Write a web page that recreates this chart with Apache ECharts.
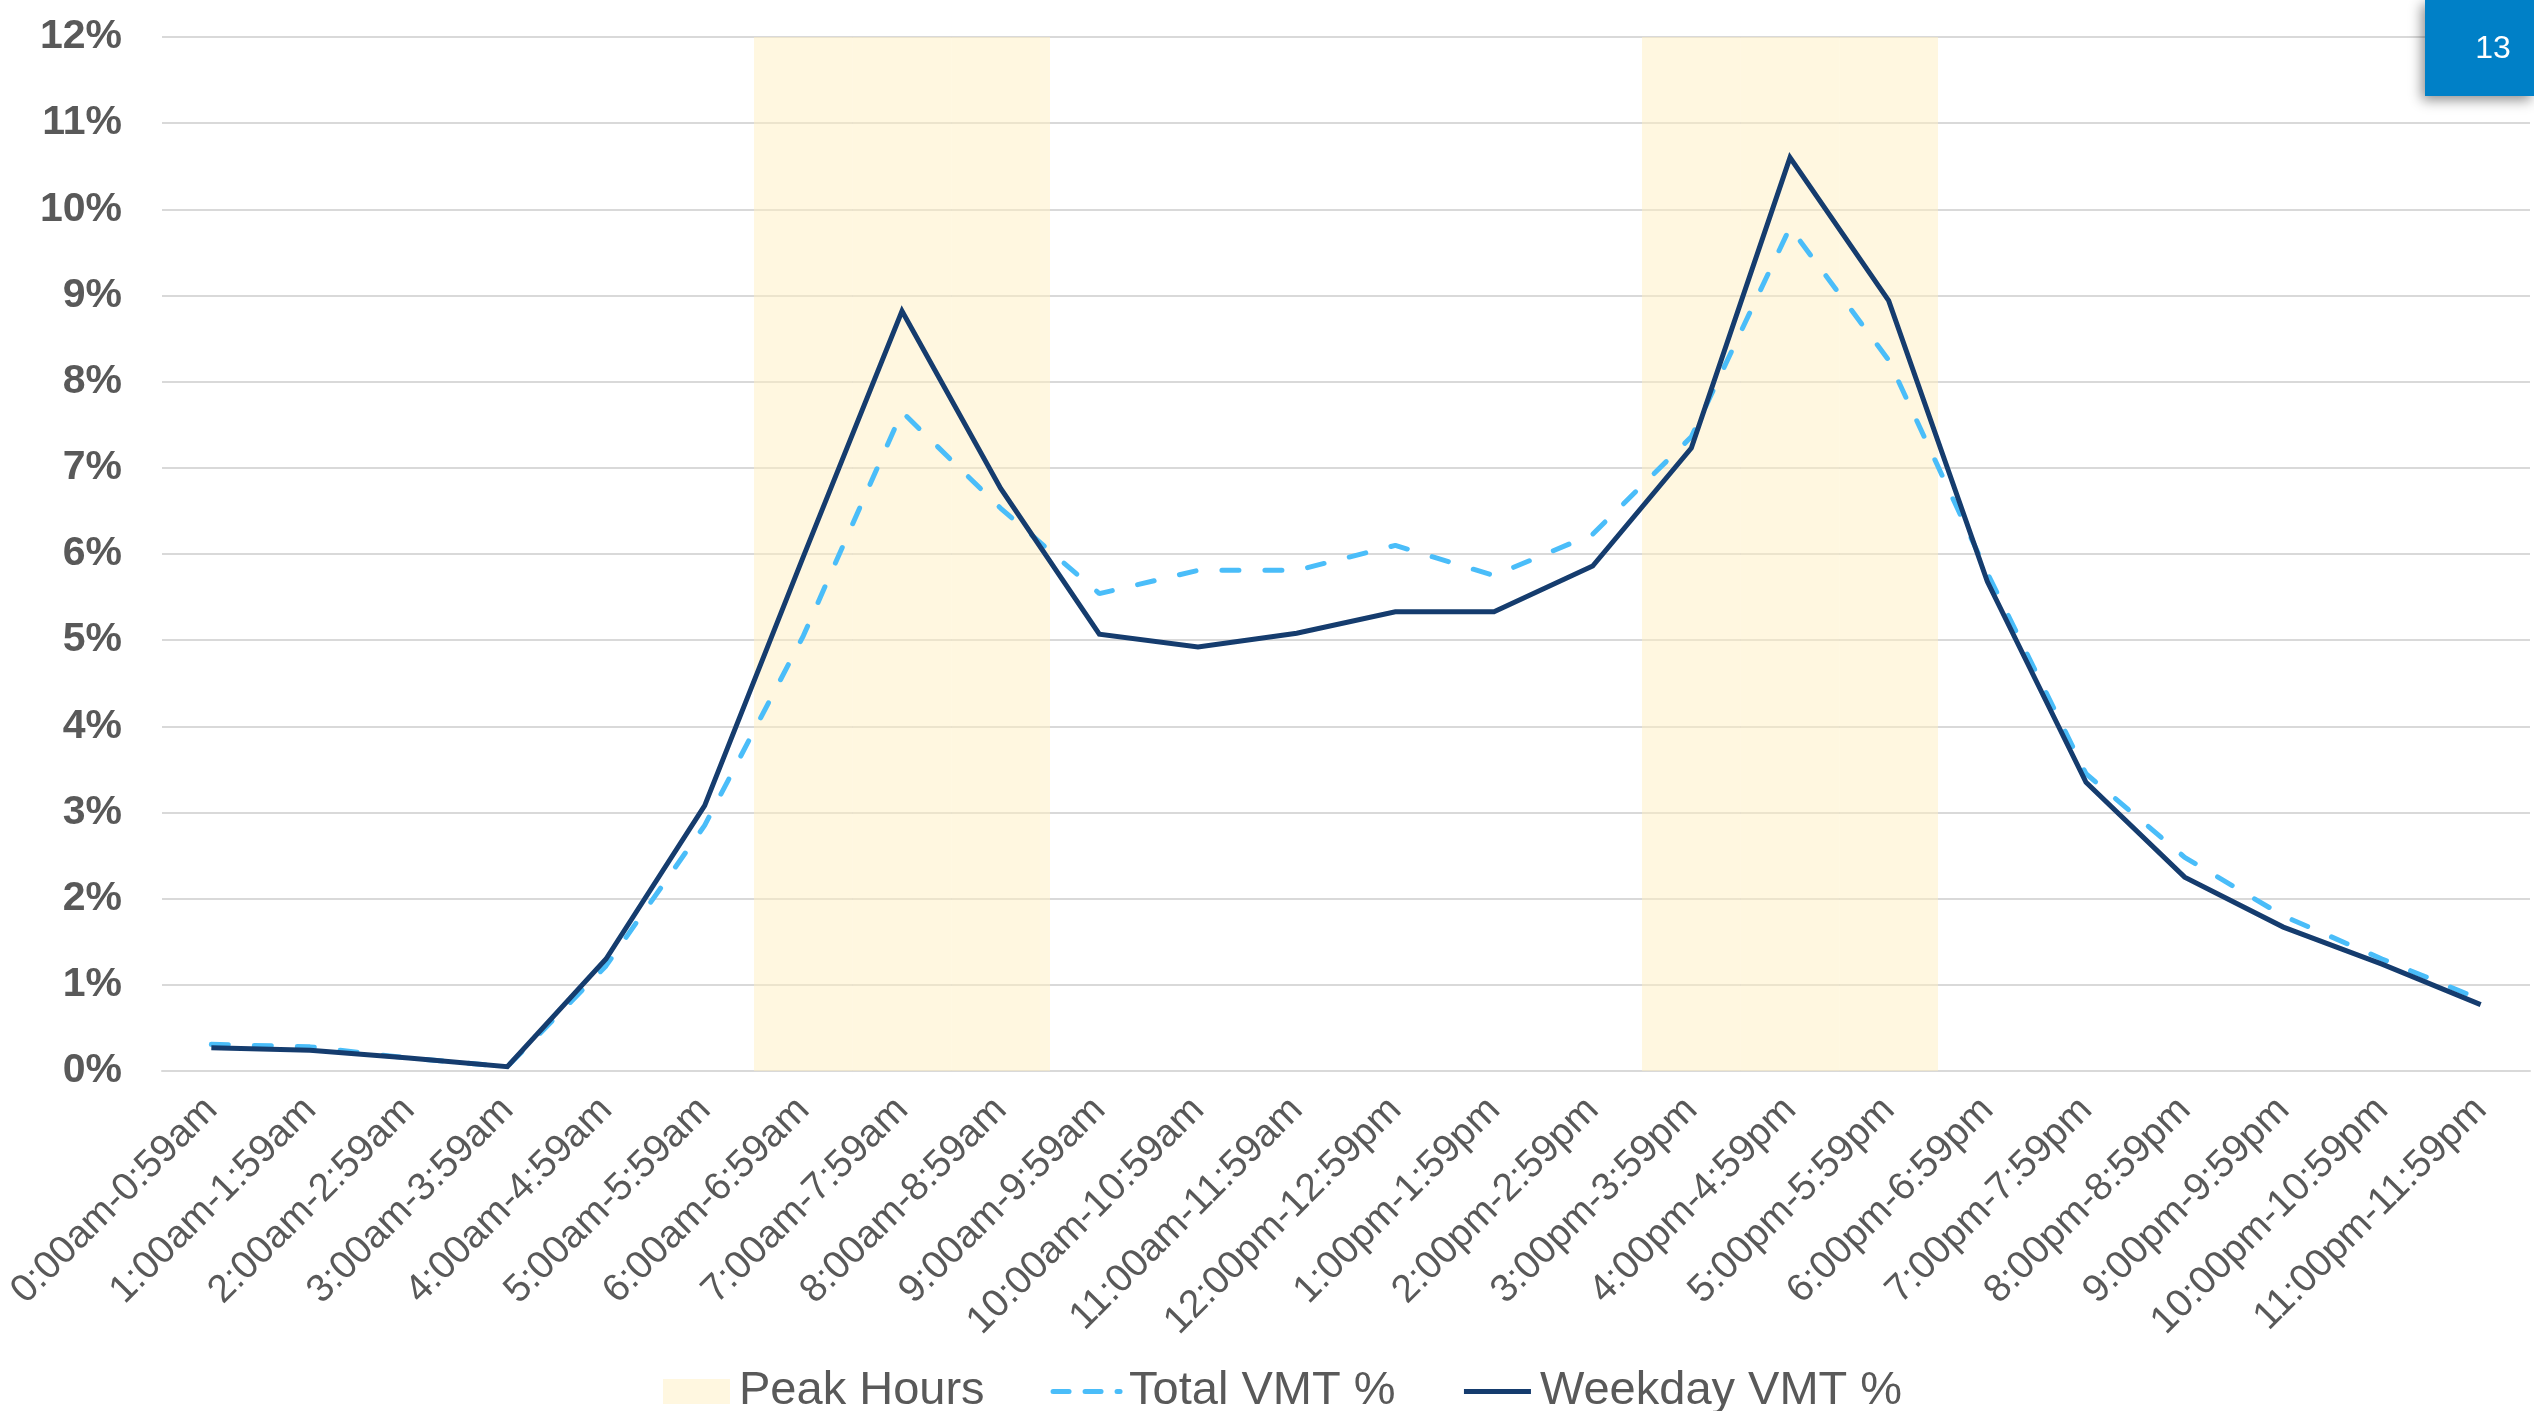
<!DOCTYPE html>
<html>
<head>
<meta charset="utf-8">
<title>Hourly VMT Distribution</title>
<script src="https://cdn.jsdelivr.net/npm/echarts@6/dist/echarts.min.js"></script>
<style>
  html, body { margin: 0; padding: 0; background: #ffffff; }
  #chart { width: 2534px; height: 1411px; }
</style>
</head>
<body>
<div id="chart"></div>
<script>
// Hour-of-day bins
const hours = [
  '0:00am-0:59am', '1:00am-1:59am', '2:00am-2:59am', '3:00am-3:59am',
  '4:00am-4:59am', '5:00am-5:59am', '6:00am-6:59am', '7:00am-7:59am',
  '8:00am-8:59am', '9:00am-9:59am', '10:00am-10:59am', '11:00am-11:59am',
  '12:00pm-12:59pm', '1:00pm-1:59pm', '2:00pm-2:59pm', '3:00pm-3:59pm',
  '4:00pm-4:59pm', '5:00pm-5:59pm', '6:00pm-6:59pm', '7:00pm-7:59pm',
  '8:00pm-8:59pm', '9:00pm-9:59pm', '10:00pm-10:59pm', '11:00pm-11:59pm'
];

// Share of daily VMT by hour (%)
const totalVmt = [
  0.31, 0.28, 0.15, 0.05, 1.22, 2.85, 5.05, 7.65, 6.53, 5.54, 5.81, 5.81,
  6.10, 5.75, 6.23, 7.36, 9.79, 8.25, 5.78, 3.45, 2.48, 1.80, 1.30, 0.83
];
const weekdayVmt = [
  0.27, 0.24, 0.15, 0.05, 1.30, 3.08, 5.97, 8.82, 6.76, 5.07, 4.92, 5.08,
  5.33, 5.33, 5.86, 7.23, 10.60, 8.94, 5.68, 3.35, 2.25, 1.67, 1.24, 0.77
];

// Hours shaded as peak periods
const peakHours = [
  '6:00am-6:59am', '7:00am-7:59am', '8:00am-8:59am',
  '3:00pm-3:59pm', '4:00pm-4:59pm', '5:00pm-5:59pm'
];

// Value axis range and ticks (%)
const yMin = 0;
const yMax = 12;
const yStep = 1;

const pageNumber = '13';

const peakBand = hours.map(h => peakHours.includes(h) ? yMax : null);

const chart = echarts.init(document.getElementById('chart'), null, { renderer: 'canvas' });

const textGrey = '#595959';
const gridGrey = '#d9d9d9';
const totalBlue = '#4abdf9';
const weekdayNavy = '#153c6e';
const totalDash = [17, 26];

chart.setOption({
  backgroundColor: '#ffffff',
  animation: false,
  textStyle: { fontFamily: 'Liberation Sans, Arial, sans-serif' },
  grid: { left: 162, right: 4, top: 37, bottom: 340, containLabel: false },
  legend: {
    left: 658,
    top: 1363,
    itemWidth: 67,
    itemHeight: 25,
    itemGap: 66,
    textStyle: {
      fontSize: 47,
      color: textGrey,
      fontFamily: 'Liberation Sans, Arial, sans-serif',
      padding: [0, 0, 0, 4]
    },
    data: [
      { name: 'Peak Hours', icon: 'rect' },
      {
        name: 'Total VMT %',
        itemStyle: { opacity: 0 },
        lineStyle: { color: totalBlue, width: 5, type: [16, 16], cap: 'round' }
      },
      {
        name: 'Weekday VMT %',
        itemStyle: { opacity: 0 },
        lineStyle: { color: weekdayNavy, width: 5 }
      }
    ]
  },
  xAxis: {
    type: 'category',
    data: hours,
    boundaryGap: true,
    axisLine: { show: true, lineStyle: { color: gridGrey, width: 2 } },
    axisTick: { show: false },
    splitLine: { show: false },
    axisLabel: {
      interval: 0,
      rotate: 45,
      margin: 33,
      fontSize: 39,
      color: textGrey,
      fontFamily: 'Liberation Sans, Arial, sans-serif'
    }
  },
  yAxis: {
    type: 'value',
    min: yMin,
    max: yMax,
    interval: yStep,
    axisLine: { show: false },
    axisTick: { show: false },
    splitLine: { show: true, lineStyle: { color: gridGrey, width: 2 } },
    axisLabel: {
      formatter: '{value}%',
      margin: 40,
      fontSize: 41,
      fontWeight: 'bold',
      color: textGrey,
      fontFamily: 'Liberation Sans, Arial, sans-serif'
    }
  },
  series: [
    {
      name: 'Peak Hours',
      type: 'bar',
      data: peakBand,
      barWidth: '100%',
      barCategoryGap: 0,
      itemStyle: { color: 'rgba(255, 239, 194, 0.5)' },
      emphasis: { disabled: true },
      z: 1
    },
    {
      name: 'Total VMT %',
      type: 'line',
      data: totalVmt,
      symbol: 'none',
      lineStyle: {
        color: totalBlue,
        width: 5,
        type: totalDash,
        cap: 'round'
      },
      itemStyle: { color: totalBlue },
      z: 3
    },
    {
      name: 'Weekday VMT %',
      type: 'line',
      data: weekdayVmt,
      symbol: 'none',
      lineStyle: { color: weekdayNavy, width: 5, join: 'miter' },
      itemStyle: { color: weekdayNavy },
      z: 4
    }
  ],
  graphic: [
    {
      type: 'rect',
      left: 2425,
      top: 0,
      shape: { width: 109, height: 96 },
      style: {
        fill: '#0080c7',
        shadowBlur: 12,
        shadowColor: 'rgba(0, 0, 0, 0.45)',
        shadowOffsetX: -3,
        shadowOffsetY: 4
      },
      z: 100
    },
    {
      type: 'text',
      x: 2493,
      y: 49,
      style: {
        text: pageNumber,
        fill: '#ffffff',
        fontSize: 32,
        fontFamily: 'Liberation Sans, Arial, sans-serif',
        align: 'center',
        verticalAlign: 'middle'
      },
      z: 101
    }
  ]
});
</script>
</body>
</html>
